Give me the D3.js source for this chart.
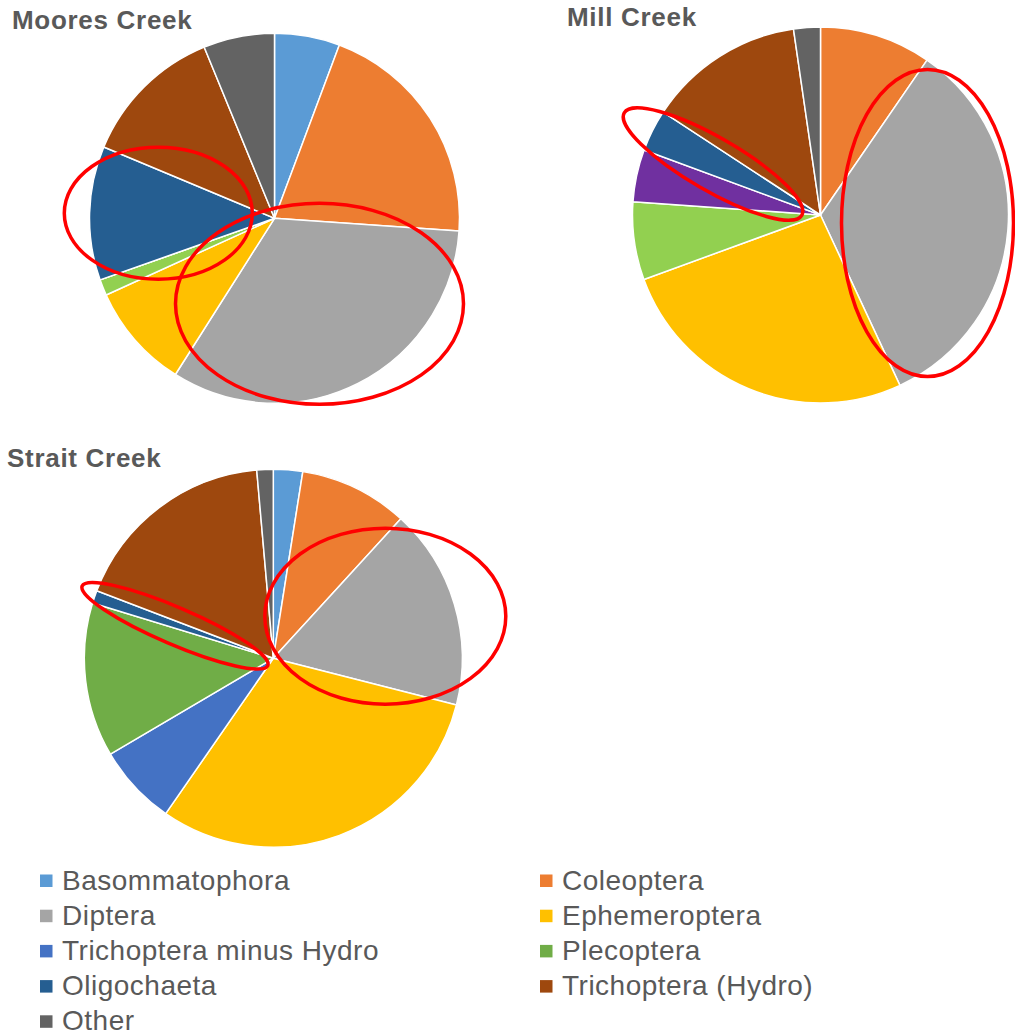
<!DOCTYPE html>
<html>
<head>
<meta charset="utf-8">
<script src="https://cdn.jsdelivr.net/npm/d3@7"></script>
<style>
  html, body { margin: 0; padding: 0; background: #fff; }
  svg { display: block; }
</style>
</head>
<body>
<svg id="chart" width="1015" height="1036"></svg>
<script>
// Taxa, in slice order (clockwise from 12 o'clock)
const categories = [
  "Basommatophora", "Coleoptera", "Diptera", "Ephemeroptera",
  "Trichoptera minus Hydro", "Plecoptera", "Oligochaeta",
  "Trichoptera (Hydro)", "Other"
];
const categoryColors = [
  "#5B9BD5", "#ED7D31", "#A5A5A5", "#FFC000",
  "#4472C4", "#70AD47", "#255E91", "#9E480E", "#636363"
];

// Percent of sample per taxon, aligned with categories
const mooresValues = [5.7, 20.4, 32.9, 9.2, 1.4, 0, 11.7, 12.5, 6.2];
const millValues   = [0, 9.6, 33.5, 26.4, 6.7, 4.5, 3.6, 13.5, 2.3];
const straitValues = [2.5, 9.3, 17.2, 30.7, 6.9, 13.2, 1.1, 17.8, 1.4];

// Slices recoloured on individual site charts (index -> colour)
const mooresColors = { 4: "#92D050" };
const millColors   = { 4: "#92D050", 5: "#7030A0" };
const straitColors = {};

const siteNames = ["Moores Creek", "Mill Creek", "Strait Creek"];

// Layout of each site's pie
const sites = [
  { name: siteNames[0], values: mooresValues, colors: mooresColors,
    cx: 274.5, cy: 218.3, r: 185, tx: 12, ty: 29,
    rings: [ { cx: 158.3, cy: 213.2, rx: 94, ry: 66, rot: 0 },
             { cx: 319.5, cy: 303.8, rx: 144, ry: 100.5, rot: 0 } ] },
  { name: siteNames[1], values: millValues, colors: millColors,
    cx: 820.5, cy: 215, r: 188, tx: 567, ty: 26,
    rings: [ { cx: 713, cy: 164, rx: 102.5, ry: 26.5, rot: 30 },
             { cx: 927.5, cy: 223, rx: 86, ry: 153.5, rot: 0 } ] },
  { name: siteNames[2], values: straitValues, colors: straitColors,
    cx: 273.3, cy: 658.3, r: 189, tx: 7, ty: 467,
    rings: [ { cx: 175, cy: 625.8, rx: 101, ry: 18.5, rot: 23.2 },
             { cx: 385.3, cy: 616.2, rx: 120.5, ry: 88, rot: 0 } ] }
];

const svg = d3.select("#chart");
const textColor = "#595959";
const font = "'Liberation Sans', Arial, Helvetica, sans-serif";

const pie = d3.pie().sort(null).value(d => d.value).startAngle(0).endAngle(2 * Math.PI);

sites.forEach(site => {
  const data = categories.map((c, i) => ({
    name: c,
    value: site.values[i],
    color: site.colors[i] || categoryColors[i]
  }));
  const arc = d3.arc().innerRadius(0).outerRadius(site.r);

  const g = svg.append("g").attr("transform", `translate(${site.cx},${site.cy})`);
  g.selectAll("path")
    .data(pie(data))
    .join("path")
    .attr("d", arc)
    .attr("fill", d => d.data.color)
    .attr("stroke", "#ffffff")
    .attr("stroke-width", 1.5)
    .attr("stroke-linejoin", "round");

  svg.append("text")
    .attr("x", site.tx)
    .attr("y", site.ty)
    .attr("font-family", font)
    .attr("font-weight", "bold")
    .attr("font-size", 26)
    .attr("letter-spacing", 0.7)
    .attr("fill", textColor)
    .text(site.name);
});

// Red highlight rings drawn over the pies
sites.forEach(site => {
  svg.append("g").selectAll("ellipse")
    .data(site.rings)
    .join("ellipse")
    .attr("cx", 0).attr("cy", 0)
    .attr("rx", d => d.rx).attr("ry", d => d.ry)
    .attr("transform", d => `translate(${d.cx},${d.cy}) rotate(${d.rot})`)
    .attr("fill", "none")
    .attr("stroke", "#FF0000")
    .attr("stroke-width", 3.5);
});

// Legend: two columns, row-major order
const legend = svg.append("g");
const items = legend.selectAll("g")
  .data(categories.map((c, i) => ({ name: c, color: categoryColors[i], i })))
  .join("g")
  .attr("transform", d => `translate(${d.i % 2 === 0 ? 40 : 540},${889.5 + Math.floor(d.i / 2) * 35.2})`);

items.append("rect")
  .attr("x", 0).attr("y", -15)
  .attr("width", 12.5).attr("height", 12.5)
  .attr("fill", d => d.color);

items.append("text")
  .attr("x", 22).attr("y", 0)
  .attr("font-family", font)
  .attr("font-size", 28)
  .attr("letter-spacing", 0.5)
  .attr("fill", textColor)
  .text(d => d.name);
</script>
</body>
</html>
